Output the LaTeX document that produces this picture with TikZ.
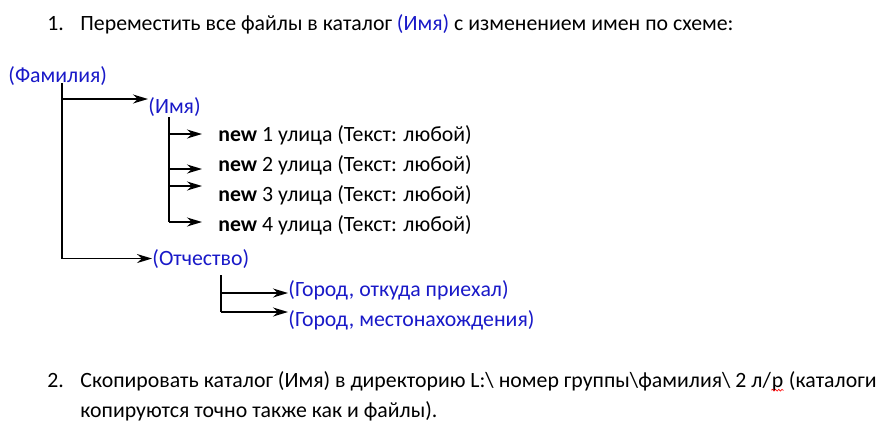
\documentclass[tikz,border=0pt]{standalone}
\usepackage{fontspec}
\setmainfont{Carlito}
\usepackage{xcolor}
\usetikzlibrary{arrows.meta,positioning}
\usetikzlibrary{decorations.pathmorphing}
\definecolor{nameblue}{RGB}{25,25,200}
\newcommand{\nm}[1]{{\color{nameblue}#1}}
\newcommand{\street}[1]{\textbf{new} #1 улица (Текст: любой)}

\begin{document}
\begin{tikzpicture}[x=0.5pt,y=-0.5pt,
    every node/.style={inner sep=0pt,anchor=base west,font=\fontsize{10.9}{13}\selectfont},
    field/.style={text=nameblue},
    link/.style={line width=0.8pt,-{Stealth[length=7.5pt,width=4.5pt]}},
    stem/.style={line width=0.8pt},
    spell/.style={red,line width=0.3pt,decorate,decoration={snake,amplitude=0.45pt,segment length=1.6pt}}]
  \useasboundingbox (0,0) rectangle (890,434);
  % item 1
  \node (num1) at (47,30) {1.};
  \node (task1) at (80,30) {Переместить все файлы в каталог \nm{(Имя)} с изменением имен по схеме:};
  % tree
  \node[field] (fam) at (8,82) {(Фамилия)};
  \node[field] (imya) at (148,113) {(Имя)};
  \node[field] (otch) at (152,265) {(Отчество)};
  \foreach \i in {1,...,4}
    \node (str\i) at (218,111+30*\i) {\street{\i}};
  \node[field] (gor1) at (288,296) {(Город, откуда приехал)};
  \node[field] (gor2) at (288,326) {(Город, местонахождения)};
  \coordinate (famtop) at (62,83);
  \coordinate (imyatop) at (169,117);
  \coordinate (otchtop) at (221,275);
  \draw[stem] (famtop) -- (famtop |- otch.west);
  \draw[link] (famtop |- 0,99) -- (imya.west |- 0,99);
  \draw[link] (famtop |- otch.west) -- (otch.west);
  \draw[stem] (imyatop) -- (169,222);
  \foreach \i/\y in {1/134,2/169,3/186,4/222}
    \draw[link] (imyatop |- 0,\y) -- ([xshift=-8pt]str\i.west |- 0,\y);
  \draw[stem] (otchtop) -- (221,312);
  \draw[link] (otchtop |- 0,293) -- (gor1.west |- 0,293);
  \draw[link] (otchtop |- 0,312) -- (gor2.west |- 0,312);
  % item 2
  \node (num2) at (47,387) {2.};
  \node (task2) at (80,387) {Скопировать каталог (Имя) в директорию L:\textbackslash\ номер группы\textbackslash фамилия\textbackslash\ 2 л/};
  \node (lr) at (task2.base east) {р};
  \node (task2c) at (lr.base east) {\ (каталоги};
  \node (task2b) at (80,417) {копируются точно также как и файлы).};
  \draw[spell] ([yshift=-1.6pt]lr.base west) -- ([yshift=-1.6pt]lr.base east);
\end{tikzpicture}
\end{document}
